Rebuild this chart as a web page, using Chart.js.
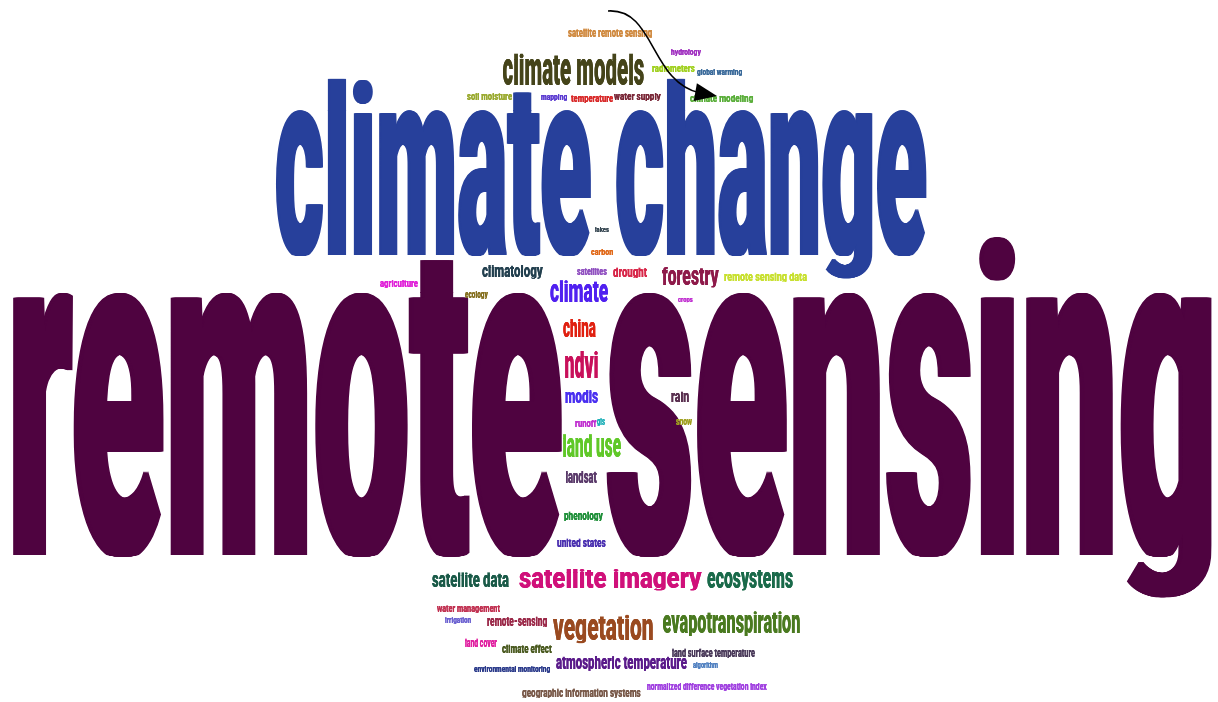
<!DOCTYPE html>
<html>
<head>
<meta charset="utf-8">
<script src="https://cdn.jsdelivr.net/npm/chart.js@4.4.0/dist/chart.umd.min.js"></script>
<style>
  html, body { margin: 0; padding: 0; background: #fff; }
  #wrap { width: 1218px; height: 702px; }
</style>
</head>
<body>
<div id="wrap"><canvas id="cloud"></canvas></div>
<script>
// Keywords and their weight (drawn as x-height, in chart units)
const words = [
  'remote sensing', 'climate change', 'climate models', 'satellite remote sensing', 'hydrology',
  'radiometers', 'global warming', 'soil moisture', 'mapping', 'temperature',
  'water supply', 'climate modeling', 'lakes', 'carbon', 'climatology',
  'satellites', 'drought', 'forestry', 'remote sensing data', 'agriculture',
  'climate', 'ecology', 'crops', 'china', 'ndvi',
  'modis', 'rain', 'snow', 'runoff', 'gis',
  'land use', 'landsat', 'phenology', 'united states', 'satellite data',
  'satellite imagery', 'ecosystems', 'water management', 'irrigation', 'remote-sensing',
  'vegetation', 'evapotranspiration', 'land cover', 'climate effect', 'land surface temperature',
  'environmental monitoring', 'atmospheric temperature', 'algorithm', 'geographic information systems', 'normalized difference vegetation index'
];
const weights = [
  263, 145, 26, 7, 5,
  6, 5, 6, 5, 6,
  6, 6, 4, 5, 10,
  6, 8, 15, 7, 6,
  18, 6, 4, 15, 22,
  11, 9, 6, 6, 6,
  19, 10, 7, 7, 12,
  16, 16, 6, 5, 8,
  21, 18, 7, 7, 7,
  5, 11, 5, 7, 6
];

// Placement of each word: left edge, right edge, baseline (chart units)
const posLeft = [
  13, 275, 503, 568, 671,
  652, 697, 467, 541, 571,
  614, 690, 595, 591, 482,
  577, 613, 662, 724, 380,
  550, 465, 678, 563, 565,
  565, 671, 676, 575, 597,
  563, 566, 564, 557, 432,
  519, 707, 437, 445, 487,
  553, 663, 465, 502, 672,
  474, 556, 693, 522, 647
];
const posRight = [
  1212, 927, 644, 652, 701,
  695, 742, 512, 567, 613,
  661, 753, 609, 613, 543,
  607, 647, 719, 807, 418,
  608, 488, 693, 596, 598,
  598, 689, 692, 597, 605,
  621, 597, 603, 606, 509,
  702, 793, 500, 471, 547,
  653, 800, 497, 552, 755,
  550, 687, 718, 641, 767
];
const posBase = [
  555, 255, 85, 37, 55,
  72, 75, 100, 100, 102,
  100, 102, 232, 255, 277,
  275, 277, 285, 281, 287,
  302, 298, 302, 337, 378,
  403, 402, 425, 427, 425,
  457, 483, 520, 547, 587,
  588, 588, 612, 623, 626,
  640, 633, 647, 653, 657,
  672, 669, 668, 697, 690
];
const colors = [
  '#4f0340', '#27409b', '#45441a', '#d08a40', '#a030c0',
  '#a0d020', '#3a6a9a', '#9aaa30', '#5a3ad0', '#d82828',
  '#7a2838', '#5aae3a', '#3a4a55', '#e06818', '#23404f',
  '#9050c0', '#d8284a', '#8e1a4a', '#c8e030', '#e020d8',
  '#5020f0', '#857020', '#c030d0', '#e02010', '#c8105a',
  '#4a30f0', '#5a3050', '#a0a020', '#c030d0', '#20b0b8',
  '#60c828', '#5a3a6a', '#20903a', '#4a30b0', '#1a5a48',
  '#d0107a', '#1a6a4a', '#c03050', '#6a60d0', '#9a2848',
  '#9a4a20', '#4a7a20', '#e020a0', '#4a5a20', '#4a3a5a',
  '#2a3a8a', '#5a1a8a', '#5080c0', '#7a5a4a', '#a040e0'
];

// Annotation arrow (bezier start, c1, c2, end) and tip, chart units
const arrowCurve = [[608, 11], [655, 8], [650, 82], [700, 93]];
const arrowTip = [717, 96];

const FONT = "900 {s}px Roboto, 'DejaVu Sans', sans-serif";
const STEM = 0.14;   // stem thickness as a share of x-height
const ASC_K = 0.55;  // squeeze of the part above x-height
const DESC_K = 0.42; // squeeze of descenders

function fontAt(s) { return FONT.replace('{s}', s); }

const wordCloudPlugin = {
  id: 'wordCloud',
  afterDatasetsDraw(chart) {
    const { ctx, scales: { x, y } } = chart;
    ctx.save();
    ctx.font = fontAt(100);
    const xRatio = ctx.measureText('x').actualBoundingBoxAscent / 100;
    const off = document.createElement('canvas');
    const octx = off.getContext('2d');

    words.forEach((w, i) => {
      const x0 = x.getPixelForValue(posLeft[i]);
      const x1 = x.getPixelForValue(posRight[i]);
      const base = Math.round(y.getPixelForValue(posBase[i]));
      const xh = Math.abs(y.getPixelForValue(posBase[i] - weights[i]) - y.getPixelForValue(posBase[i]));
      const size = xh / xRatio;
      ctx.font = fontAt(size);
      const m = ctx.measureText(w);
      const mw = m.actualBoundingBoxLeft + m.actualBoundingBoxRight;
      const lm = ctx.measureText('l');
      const stem = lm.actualBoundingBoxLeft + lm.actualBoundingBoxRight;
      const tw = x1 - x0;
      let k = 0, sx = tw / mw;
      for (let it = 0; it < 4; it++) {
        k = Math.max(0, STEM * xh - stem * sx);
        sx = (tw - k) / mw;
      }
      const asc = Math.ceil(m.actualBoundingBoxAscent) + 2;
      const desc = Math.ceil(m.actualBoundingBoxDescent) + 2;
      const W = Math.ceil(tw) + 6;
      off.width = W;
      off.height = asc + desc;
      octx.font = fontAt(size);
      octx.fillStyle = colors[i];
      octx.textBaseline = 'alphabetic';
      const steps = Math.max(1, Math.ceil(k));
      for (let s = 0; s <= steps; s++) {
        octx.save();
        octx.translate(3 + k * s / steps + m.actualBoundingBoxLeft * sx, asc);
        octx.scale(sx, 1);
        octx.fillText(w, 0, 0);
        octx.restore();
      }
      const xhS = Math.round(xh);
      const topH = asc - xhS;
      const dx = x0 - 3;
      if (topH > 0) ctx.drawImage(off, 0, 0, W, topH, dx, base - xhS - topH * ASC_K, W, topH * ASC_K + 0.5);
      ctx.drawImage(off, 0, topH, W, xhS, dx, base - xhS, W, xhS);
      ctx.drawImage(off, 0, asc, W, desc, dx, base, W, desc * DESC_K);
    });

    // curved arrow
    const p = arrowCurve.map(([a, b]) => [x.getPixelForValue(a), y.getPixelForValue(b)]);
    const tip = [x.getPixelForValue(arrowTip[0]), y.getPixelForValue(arrowTip[1])];
    ctx.strokeStyle = '#000';
    ctx.lineWidth = 1.6;
    ctx.beginPath();
    ctx.moveTo(p[0][0], p[0][1]);
    ctx.bezierCurveTo(p[1][0], p[1][1], p[2][0], p[2][1], p[3][0], p[3][1]);
    ctx.stroke();
    const ang = Math.atan2(tip[1] - p[3][1], tip[0] - p[3][0]);
    const len = 22, half = 9;
    const bx = tip[0] - len * Math.cos(ang), by = tip[1] - len * Math.sin(ang);
    ctx.fillStyle = '#000';
    ctx.beginPath();
    ctx.moveTo(tip[0], tip[1]);
    ctx.lineTo(bx + half * Math.sin(ang), by - half * Math.cos(ang));
    ctx.lineTo(bx - half * Math.sin(ang), by + half * Math.cos(ang));
    ctx.closePath();
    ctx.fill();
    ctx.restore();
  }
};

new Chart(document.getElementById('cloud'), {
  type: 'scatter',
  data: {
    datasets: [{
      label: 'keywords',
      data: words.map((w, i) => ({ x: (posLeft[i] + posRight[i]) / 2, y: posBase[i] })),
      pointRadius: 0,
      pointHoverRadius: 0
    }]
  },
  options: {
    responsive: true,
    maintainAspectRatio: false,
    animation: false,
    layout: { padding: 0 },
    plugins: { legend: { display: false }, tooltip: { enabled: false } },
    scales: {
      x: { type: 'linear', min: 0, max: 1218, display: false },
      y: { type: 'linear', min: 0, max: 702, reverse: true, display: false }
    }
  },
  plugins: [wordCloudPlugin]
});
</script>
</body>
</html>
